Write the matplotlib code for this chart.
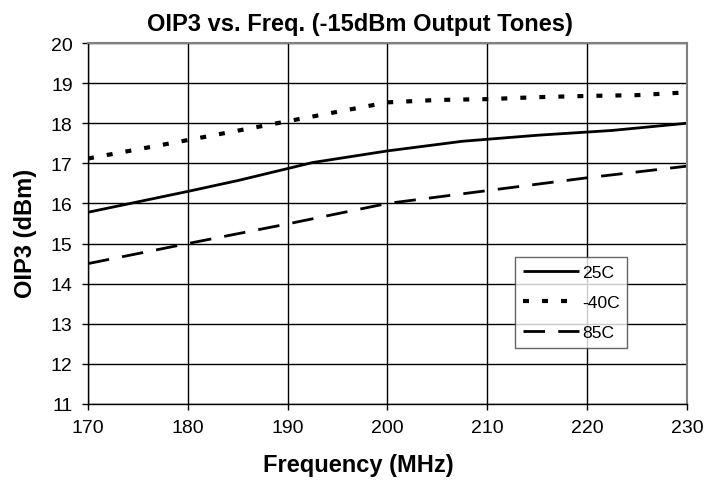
import matplotlib
matplotlib.use("Agg")
import matplotlib.pyplot as plt

plt.rcParams['font.family'] = ['Liberation Sans', 'DejaVu Sans']
plt.rcParams['lines.scale_dashes'] = False

freq_25 = [170, 180, 185, 192.5, 200, 207.5, 215, 222.5, 230]
oip3_25 = [15.78, 16.3, 16.57, 17.02, 17.31, 17.55, 17.7, 17.82, 18.0]

freq_m40 = [170, 180, 190, 200, 205, 210, 215, 220, 225, 230]
oip3_m40 = [17.12, 17.58, 18.05, 18.52, 18.58, 18.6, 18.65, 18.68, 18.7, 18.77]

freq_85 = [170, 180, 190, 200, 210, 220, 230]
oip3_85 = [14.5, 15.0, 15.49, 16.0, 16.32, 16.64, 16.93]

x_ticks = [170, 180, 190, 200, 210, 220, 230]
y_ticks = list(range(11, 21))

W, H = 723, 481
fig = plt.figure(figsize=(W/100, H/100), dpi=100)
ax = fig.add_axes([88/W, 1-405/H, (687-88)/W, (405-44)/H])

ax.plot(freq_25, oip3_25, color='black', lw=2.0, label='25C', solid_capstyle='butt')
ax.plot(freq_m40, oip3_m40, color='black', lw=3.0, linestyle=(0, (4.3, 9.4)),
        label='-40C', dash_capstyle='butt')
ax.plot(freq_85, oip3_85, color='black', lw=2.0, linestyle=(0, (15.5, 9.5)),
        label='85C', dash_capstyle='butt')

ax.set_xlim(170, 230)
ax.set_ylim(11, 20)
ax.set_xticks(x_ticks)
ax.set_yticks(y_ticks)
ax.grid(True, color='black', lw=1.0)
ax.set_axisbelow(True)
ax.tick_params(axis='both', direction='out', length=4, width=1, labelsize=14, pad=7,
               color='black')
for s in ['top', 'right']:
    ax.spines[s].set_color('#808080')
    ax.spines[s].set_linewidth(1.5)
for s in ['left', 'bottom']:
    ax.spines[s].set_color('black')
    ax.spines[s].set_linewidth(1.0)

fig.text(360/W, 1-31.5/H, 'OIP3 vs. Freq. (-15dBm Output Tones)', fontsize=17,
         fontweight='bold', ha='center', va='baseline')
fig.text(358.5/W, 1-472.5/H, 'Frequency (MHz)', fontsize=17, fontweight='bold',
         ha='center', va='baseline')
fig.text(31.7/W, 1-233/H, 'OIP3 (dBm)', fontsize=17, fontweight='bold',
         ha='center', va='baseline', rotation=90, rotation_mode='anchor')

leg = ax.legend(loc='upper left', bbox_to_anchor=((515-88)/599, (405-258)/361),
                fontsize=12.6, frameon=True, fancybox=False, handlelength=3.2,
                handletextpad=0.17, borderpad=0.45, labelspacing=0.85, borderaxespad=0)
leg.get_frame().set_edgecolor('#404040')
leg.get_frame().set_linewidth(1.0)

fig.savefig('out.png', dpi=100)
